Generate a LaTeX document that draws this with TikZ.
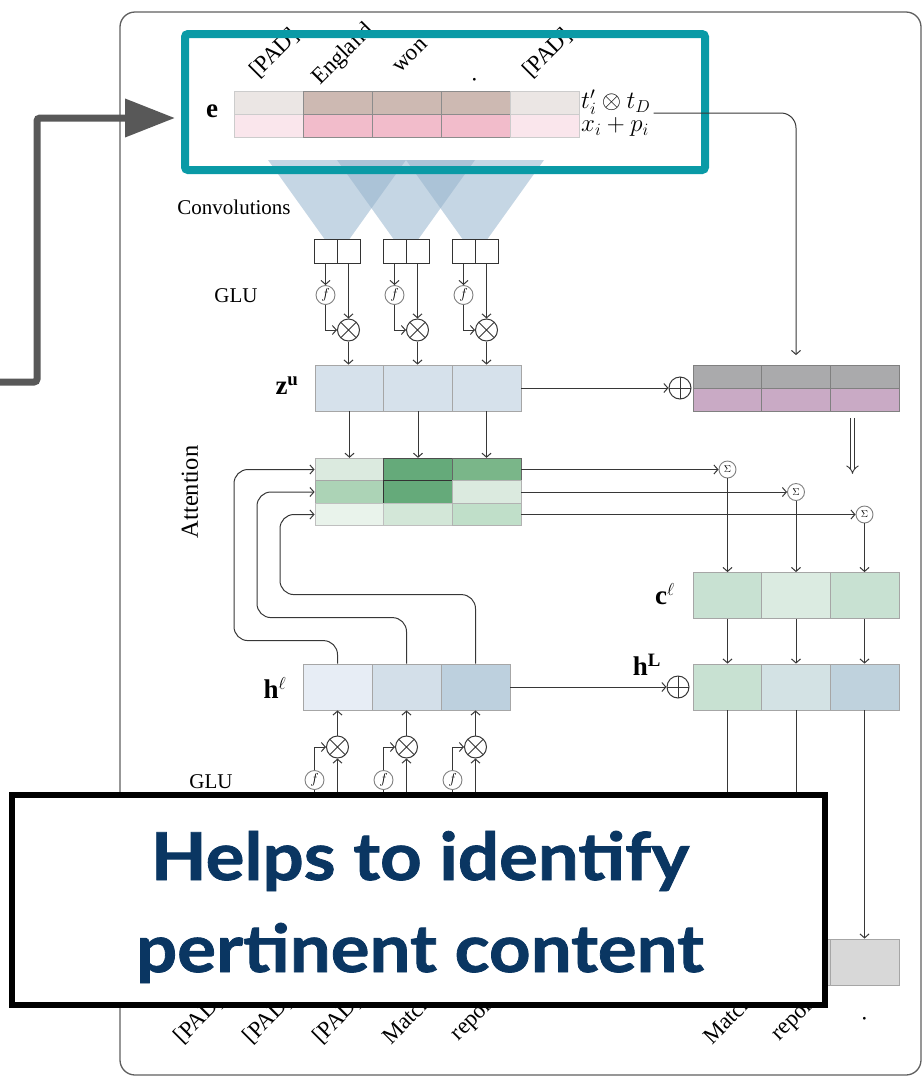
\documentclass[tikz,border=0pt]{standalone}
\usepackage{fontspec}
\setmainfont{Liberation Serif}
\newfontfamily\calloutfont[FakeStretch=1.1, FakeBold=1.2]{Lato}
\usepackage{amsmath}
\usetikzlibrary{positioning, arrows.meta, calc}

\definecolor{framegray}{RGB}{95,95,95}
\definecolor{tealframe}{RGB}{10,154,166}
\definecolor{navy}{RGB}{10,54,98}
\definecolor{bigarrow}{RGB}{88,88,88}
\definecolor{wirecol}{RGB}{55,55,55}
\definecolor{conefill}{RGB}{150,180,205}
% embedding
\definecolor{padtop}{RGB}{235,230,228}
\definecolor{padbot}{RGB}{250,230,236}
\definecolor{wordtop}{RGB}{205,185,178}
\definecolor{wordbot}{RGB}{242,188,203}
% blues
\definecolor{zblue}{RGB}{214,225,235}
\definecolor{hblueA}{RGB}{231,237,245}
\definecolor{hblueB}{RGB}{211,223,233}
\definecolor{hblueC}{RGB}{189,208,222}
% greens
\definecolor{attA}{RGB}{219,234,223}
\definecolor{attB}{RGB}{101,170,122}
\definecolor{attC}{RGB}{122,182,137}
\definecolor{attD}{RGB}{172,211,182}
\definecolor{attE}{RGB}{233,243,235}
\definecolor{attF}{RGB}{211,231,216}
\definecolor{attG}{RGB}{192,223,201}
\definecolor{ctxA}{RGB}{200,225,210}
\definecolor{ctxB}{RGB}{219,235,225}
\definecolor{hLB}{RGB}{211,226,228}
\definecolor{hLC}{RGB}{191,210,221}
% right column
\definecolor{mixtop}{RGB}{170,170,172}
\definecolor{mixbot}{RGB}{201,170,197}
\definecolor{outgray}{RGB}{216,216,216}

\tikzset{
  cell/.style={draw=gray!70, line width=0.8pt, minimum width=69pt, minimum height=46pt, inner sep=0pt},
  halfcell/.style={cell, minimum height=23pt},
  convbox/.style={draw=black!80, fill=white, line width=1pt, minimum width=23pt, minimum height=24pt, inner sep=0pt},
  wire/.style={draw=wirecol, line width=1pt},
  arr/.style={wire, -{Straight Barb[length=4pt,width=9pt]}},
  gate/.style={circle, draw=wirecol, line width=1pt, minimum size=22pt, inner sep=0pt},
  otimes/.style={gate, path picture={\draw[wirecol, line width=1pt] ([shift={(45:12pt)}]path picture bounding box.center) -- ([shift={(225:12pt)}]path picture bounding box.center) ([shift={(135:12pt)}]path picture bounding box.center) -- ([shift={(315:12pt)}]path picture bounding box.center);}},
  oplus/.style={gate, path picture={\draw[wirecol, line width=1pt] (path picture bounding box.north) -- (path picture bounding box.south) (path picture bounding box.west) -- (path picture bounding box.east);}},
  fgate/.style={circle, draw=gray, line width=0.9pt, minimum size=19pt, inner sep=0pt, font=\fontsize{15}{15}\selectfont},
  sgate/.style={circle, draw=gray, line width=0.9pt, minimum size=17pt, inner sep=0pt, font=\fontsize{10}{10}\selectfont},
  mlabel/.style={font=\fontsize{27}{27}\selectfont},
  tlabel/.style={font=\fontsize{21}{21}\selectfont},
  token/.style={font=\fontsize{23}{23}\selectfont, rotate=45, inner sep=0pt},
}

\begin{document}
\begin{tikzpicture}[x=1pt, y=-1pt]
\useasboundingbox (0,0) rectangle (924,1080);

% outer frame
\draw[framegray, line width=1.3pt, rounded corners=15pt] (120,12) rectangle (921,1075);

% convolution cones
\foreach \x in {337,406,475}
  \fill[conefill, opacity=.55] (\x-69,160) -- (\x+69,160) -- (\x+12.5,239) -- (\x-12.5,239) -- cycle;

% embeddings
\foreach \i/\tc/\bc/\bd in {1/padtop/padbot/gray!40, 2/wordtop/wordbot/gray!90, 3/wordtop/wordbot/gray!90, 4/wordtop/wordbot/gray!90, 5/padtop/padbot/gray!40}{
  \node[halfcell, fill=\tc, draw=\bd] (et\i) at ({199.5+69*\i},102.5) {};
  \node[halfcell, fill=\bc, draw=\bd] (eb\i) at ({199.5+69*\i},125.5) {};
}
\node[mlabel] (elab) at (212,111) {$\mathbf{e}$};
\node[font=\fontsize{26}{23}\selectfont, align=left, anchor=west, inner sep=3pt] (epos) at (578,113) {$t'_i \otimes t_D$\\$x_i + p_i$};

\node[token, anchor=base west] (w1) at (258,79) {[PAD]};
\node[token, anchor=base west] (w2) at (320,86) {England};
\node[token, anchor=base west] (w3) at (400,74) {won};
\node[token, anchor=base west] (w4) at (473,83) {.};
\node[token, anchor=base west] (w5) at (531,79) {[PAD]};

\node[draw=tealframe, line width=8pt, rounded corners=3pt, minimum width=520pt, minimum height=136pt, inner sep=0pt] (ebox) at (445,102) {};

\node[tlabel] (convlab) at (234,207) {Convolutions};
\node[tlabel] (glutop) at (236,296) {GLU};

% z^u row
\foreach \i/\x in {1/349.5, 2/418, 3/486.5}
  \node[cell, fill=zblue] (z\i) at (\x,388) {};
\node[mlabel] (zlab) at (287,386) {$\mathbf{z}^{\mathbf{u}}$};

% GLU (encoder)
\foreach \i/\x in {1/337, 2/406, 3/475}{
  \node[convbox] (ka\i) at (\x-11.5,251) {};
  \node[convbox] (kb\i) at (\x+11.5,251) {};
  \node[fgate] (f\i) at (\x-11.5,295) {$f$};
  \node[otimes] (m\i) at (\x+11.5,330) {};
  \draw[arr] (ka\i) -- (f\i);
  \draw[arr] (f\i.south) |- (m\i.west);
  \draw[arr] (kb\i) -- (m\i);
  \draw[arr] (m\i.south) -- (m\i.south |- z\i.north);
}

% embedding mix (right)
\foreach \i/\x in {1/727.5, 2/796, 3/864.5}{
  \node[halfcell, fill=mixtop, draw=gray] (gt\i) at (\x,377) {};
  \node[halfcell, fill=mixbot, draw=gray] (gb\i) at (\x,400) {};
}
\node[oplus] (addz) at (680,388) {};
\draw[arr] (z3) -- (addz);
\draw[arr, rounded corners=15pt, shorten >=10pt] (epos.east) -| (gt2.north);
\draw[wirecol, line width=0.9pt, double, double distance=3.5pt, -{Implies}] ([xshift=-12pt,yshift=-6pt]gb3.south) -- ++(0,56);

% attention
\node[font=\fontsize{24.5}{24.5}\selectfont, rotate=90] (attlab) at (190,492) {Attention};
\foreach \r/\y/\ca/\cb/\cc/\da/\db/\dc in {1/469.5/attA/attB/attC/gray!60/black!70/black!60, 2/492/attD/attB/attA/gray!70/black!80/gray!60, 3/514.5/attE/attF/attG/gray!50/gray!50/gray!60}{
  \node[halfcell, fill=\ca, draw=\da, minimum height=22.5pt] (a\r1) at (349.5,\y) {};
  \node[halfcell, fill=\cb, draw=\db, minimum height=22.5pt] (a\r2) at (418,\y) {};
  \node[halfcell, fill=\cc, draw=\dc, minimum height=22.5pt] (a\r3) at (486.5,\y) {};
}
\foreach \i in {1,2,3}
  \draw[arr] (z\i) -- (a1\i);

% sums
\node[sgate] (s1) at (727.5,469.5) {$\Sigma$};
\node[sgate] (s2) at (796,492) {$\Sigma$};
\node[sgate] (s3) at (864.5,514.5) {$\Sigma$};
\draw[arr] (a13.east) -- (s1);
\draw[arr] (a23.east) -- (s2);
\draw[arr] (a33.east) -- (s3);

% context and decoder state
\foreach \i/\x/\cc/\hc in {1/727.5/ctxA/ctxA, 2/796/ctxB/hLB, 3/864.5/ctxA/hLC}{
  \node[cell, fill=\cc] (c\i) at (\x,595.5) {};
  \node[cell, fill=\hc] (hL\i) at (\x,687) {};
  \node[cell, fill=outgray] (o\i) at (\x,962) {};
  \draw[arr] (s\i) -- (c\i);
  \draw[arr] (c\i) -- (hL\i);
}
\node[mlabel] (clab) at (665,594) {$\mathbf{c}^{\ell}$};
\node[mlabel] (hLlab) at (647,665) {$\mathbf{h}^{\mathbf{L}}$};
\node[oplus] (addh) at (678,687) {};
\coordinate (hout1) at (727.5,800);
\coordinate (hout2) at (796,800);
\draw[wire] (hL1) -- (hout1);
\draw[wire] (hL2) -- (hout2);
\draw[arr] (hL3) -- (o3);

% h^l row
\foreach \i/\x/\hc in {1/337.5/hblueA, 2/406.5/hblueB, 3/475.5/hblueC}
  \node[cell, fill=\hc] (h\i) at (\x,687) {};
\node[mlabel] (hlab) at (275,688) {$\mathbf{h}^{\ell}$};
\draw[arr] (h3) -- (addh);

\draw[arr, rounded corners=14pt] (h1.north) -- ++(0,-23) -| (234,469.5) -- (a11.west);
\draw[arr, rounded corners=14pt] (h2.north) -- ++(0,-46) -| (257,492) -- (a21.west);
\draw[arr, rounded corners=14pt] (h3.north) -- ++(0,-69) -| (280,514.5) -- (a31.west);

% GLU (decoder)
\node[tlabel] (glubot) at (211,782) {GLU};
\foreach \i/\x in {1/337.5, 2/406.5, 3/475.5}{
  \node[otimes] (lm\i) at (\x,747) {};
  \node[fgate] (lf\i) at (\x-23,780) {$f$};
  \coordinate (lfin\i) at (\x-23,805);
  \coordinate (lmin\i) at (\x,805);
  \draw[arr] (lmin\i) -- (lm\i);
  \draw[wire] (lfin\i) -- (lf\i);
  \draw[arr] (lf\i.north) |- (lm\i.west);
  \draw[arr] (lm\i) -- (h\i);
}

% decoder tokens
\foreach \x/\w in {199/{[PAD]}, 268/{[PAD]}, 337.5/{[PAD]}, 406.5/Match, 475.5/report, 727.5/Match, 796/report, 864.5/.}
  \node[token] at (\x,1019) {\w};

% pointer arrow
\coordinate (src) at (0,382);
\draw[bigarrow, line width=7pt, rounded corners=3pt, -{Triangle[length=50pt,width=37pt]}, shorten >=6pt] (src) -- (37,382) -- (37,118) -- ([yshift=-16pt]ebox.west);

% callout
\node[draw=black, line width=6pt, fill=white, minimum width=813pt, minimum height=210pt, inner sep=0pt] (callout) at (418.5,900) {};
\node[font=\calloutfont\bfseries\fontsize{66}{66}\selectfont, text=navy, anchor=base] (line1) at (420,880) {Helps to identify};
\node[font=\calloutfont\bfseries\fontsize{66}{66}\selectfont, text=navy, anchor=base] (line2) at (420,972) {pertinent content};
\end{tikzpicture}
\end{document}
